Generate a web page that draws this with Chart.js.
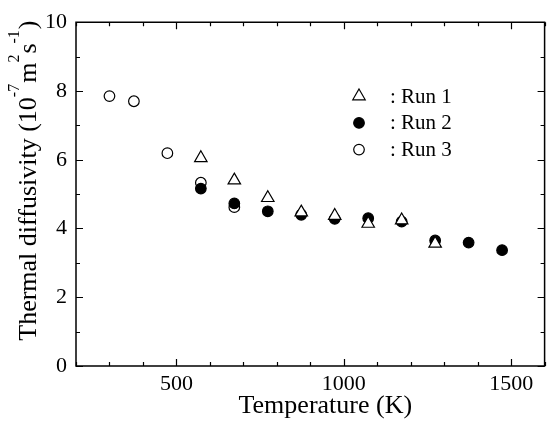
<!DOCTYPE html>
<html>
<head>
<meta charset="utf-8">
<title>Thermal diffusivity</title>
<script src="https://cdn.jsdelivr.net/npm/chart.js@4.4.1/dist/chart.umd.min.js"></script>
<style>
  html, body { margin: 0; padding: 0; background: #fff; overflow: hidden; }
  #wrap { width: 553px; height: 421px; }
</style>
</head>
<body>
<div id="wrap"><canvas id="chart"></canvas></div>
<script>
// data
const temps1 = [573, 673, 773, 873, 973, 1073, 1173, 1273];
const run1 = [6.05, 5.40, 4.89, 4.47, 4.37, 4.14, 4.24, 3.56];
const temps2 = [573, 673, 773, 873, 973, 1073, 1173, 1273, 1373, 1473];
const run2 = [5.16, 4.73, 4.50, 4.40, 4.28, 4.30, 4.20, 3.65, 3.59, 3.37];
const temps3 = [300, 373, 473, 573, 673];
const run3 = [7.85, 7.70, 6.19, 5.33, 4.62];
const runLabels = [': Run 1', ': Run 2', ': Run 3'];
const xTickLabels = [500, 1000, 1500];
const yTickLabels = [0, 2, 4, 6, 8, 10];

const FONT = 'Liberation Serif, Times New Roman, serif';

const toPoints = (xs, ys) => xs.map((x, i) => ({ x: x, y: ys[i] }));

const styles = [
  { pointStyle: 'triangle', radius: 7.2, backgroundColor: '#fff', borderColor: '#000', borderWidth: 1.2 },
  { pointStyle: 'circle', radius: 5.3, backgroundColor: '#000', borderColor: '#000', borderWidth: 1.2 },
  { pointStyle: 'circle', radius: 5.3, backgroundColor: '#fff', borderColor: '#000', borderWidth: 1.2 }
];

// frame + inward ticks on all four sides
const frameTicks = {
  id: 'frameTicks',
  afterDatasetsDraw(chart) {
    const { ctx, chartArea: a, scales } = chart;
    ctx.save();
    ctx.strokeStyle = '#000';
    ctx.lineWidth = 1.5;
    ctx.beginPath();
    ctx.moveTo(a.left, a.top); ctx.lineTo(a.right, a.top);
    ctx.lineTo(a.right, a.bottom); ctx.lineTo(a.left, a.bottom);
    ctx.closePath();
    ctx.stroke();
    ctx.lineWidth = 1.2;
    ctx.beginPath();
    scales.x.ticks.forEach(t => {
      const px = Math.round(scales.x.getPixelForValue(t.value)) + 0.5;
      const len = xTickLabels.includes(t.value) ? 7 : 4;
      ctx.moveTo(px, a.bottom); ctx.lineTo(px, a.bottom - len);
      ctx.moveTo(px, a.top); ctx.lineTo(px, a.top + len);
    });
    scales.y.ticks.forEach(t => {
      const py = Math.round(scales.y.getPixelForValue(t.value)) + 0.5;
      const len = yTickLabels.includes(t.value) ? 7 : 4;
      ctx.moveTo(a.left, py); ctx.lineTo(a.left + len, py);
      ctx.moveTo(a.right, py); ctx.lineTo(a.right - len, py);
    });
    ctx.stroke();
    ctx.restore();
  }
};

// axis titles (y title has superscripts) and the in-plot legend
const titlesLegend = {
  id: 'titlesLegend',
  afterDraw(chart) {
    const { ctx, chartArea: a } = chart;
    ctx.save();
    ctx.fillStyle = '#000';

    // x title
    ctx.font = '26px ' + FONT;
    ctx.textAlign = 'center';
    ctx.textBaseline = 'alphabetic';
    ctx.fillText('Temperature (K)', (a.left + a.right) / 2 + 15, a.bottom + 47);

    // y title, rotated
    const parts = [
      ['Thermal diffusivity (10', false], ['-7', true], ['m', false],
      ['2', true], ['s', false], ['-1', true], [')', false]
    ];
    const big = '26px ' + FONT, small = '16px ' + FONT;
    let total = 0;
    parts.forEach(p => { ctx.font = p[1] ? small : big; total += ctx.measureText(p[0]).width + (p[1] ? 1 : 0); });
    ctx.translate(36, (a.top + a.bottom) / 2 - 13.5);
    ctx.rotate(-Math.PI / 2);
    ctx.textAlign = 'left';
    let cx = -total / 2;
    parts.forEach(p => {
      ctx.font = p[1] ? small : big;
      ctx.fillText(p[0], cx, p[1] ? -17 : 0);
      cx += ctx.measureText(p[0]).width + (p[1] ? 1 : 0);
    });
    ctx.setTransform(1, 0, 0, 1, 0, 0);

    // legend
    const symX = a.left + 283, textX = a.left + 314;
    ctx.font = '21px ' + FONT;
    ctx.textAlign = 'left';
    ctx.textBaseline = 'middle';
    runLabels.forEach((lab, i) => {
      const y = a.top + 74 + i * 26.7;
      const s = styles[i];
      ctx.lineWidth = s.borderWidth;
      ctx.strokeStyle = s.borderColor;
      ctx.fillStyle = s.backgroundColor;
      Chart.helpers.drawPoint(ctx, { pointStyle: s.pointStyle, radius: s.radius, rotation: 0, borderWidth: s.borderWidth }, symX, y);
      ctx.fillStyle = '#000';
      ctx.fillText(lab, textX, y + 1);
    });
    ctx.restore();
  }
};

const mkSet = (label, xs, ys, s) => ({
  label: label,
  data: toPoints(xs, ys),
  showLine: false,
  pointStyle: s.pointStyle,
  pointRadius: s.radius,
  pointHoverRadius: s.radius,
  pointBackgroundColor: s.backgroundColor,
  pointBorderColor: s.borderColor,
  pointBorderWidth: s.borderWidth
});

new Chart(document.getElementById('chart'), {
  type: 'scatter',
  data: {
    datasets: [
      mkSet('Run 1', temps1, run1, styles[0]),
      mkSet('Run 2', temps2, run2, styles[1]),
      mkSet('Run 3', temps3, run3, styles[2])
    ]
  },
  options: {
    responsive: true,
    maintainAspectRatio: false,
    animation: false,
    layout: { padding: { left: 0, top: 19, right: 4, bottom: 0 } },
    plugins: { legend: { display: false }, tooltip: { enabled: false } },
    scales: {
      x: {
        type: 'linear', min: 200, max: 1600,
        grid: { display: false, drawTicks: false },
        border: { display: false },
        ticks: {
          stepSize: 100, autoSkip: false, maxRotation: 0, padding: 5,
          color: '#000', font: { family: FONT, size: 22 },
          callback: v => xTickLabels.includes(v) ? String(v) : ''
        },
        afterFit: s => { s.height = 55; }
      },
      y: {
        min: 0, max: 10,
        grid: { display: false, drawTicks: false },
        border: { display: false },
        ticks: {
          stepSize: 1, autoSkip: false, padding: 9,
          color: '#000', font: { family: FONT, size: 22 },
          callback: v => yTickLabels.includes(v) ? String(v) : ''
        },
        afterFit: s => { s.width = 76; }
      }
    }
  },
  plugins: [frameTicks, titlesLegend]
});
</script>
</body>
</html>
